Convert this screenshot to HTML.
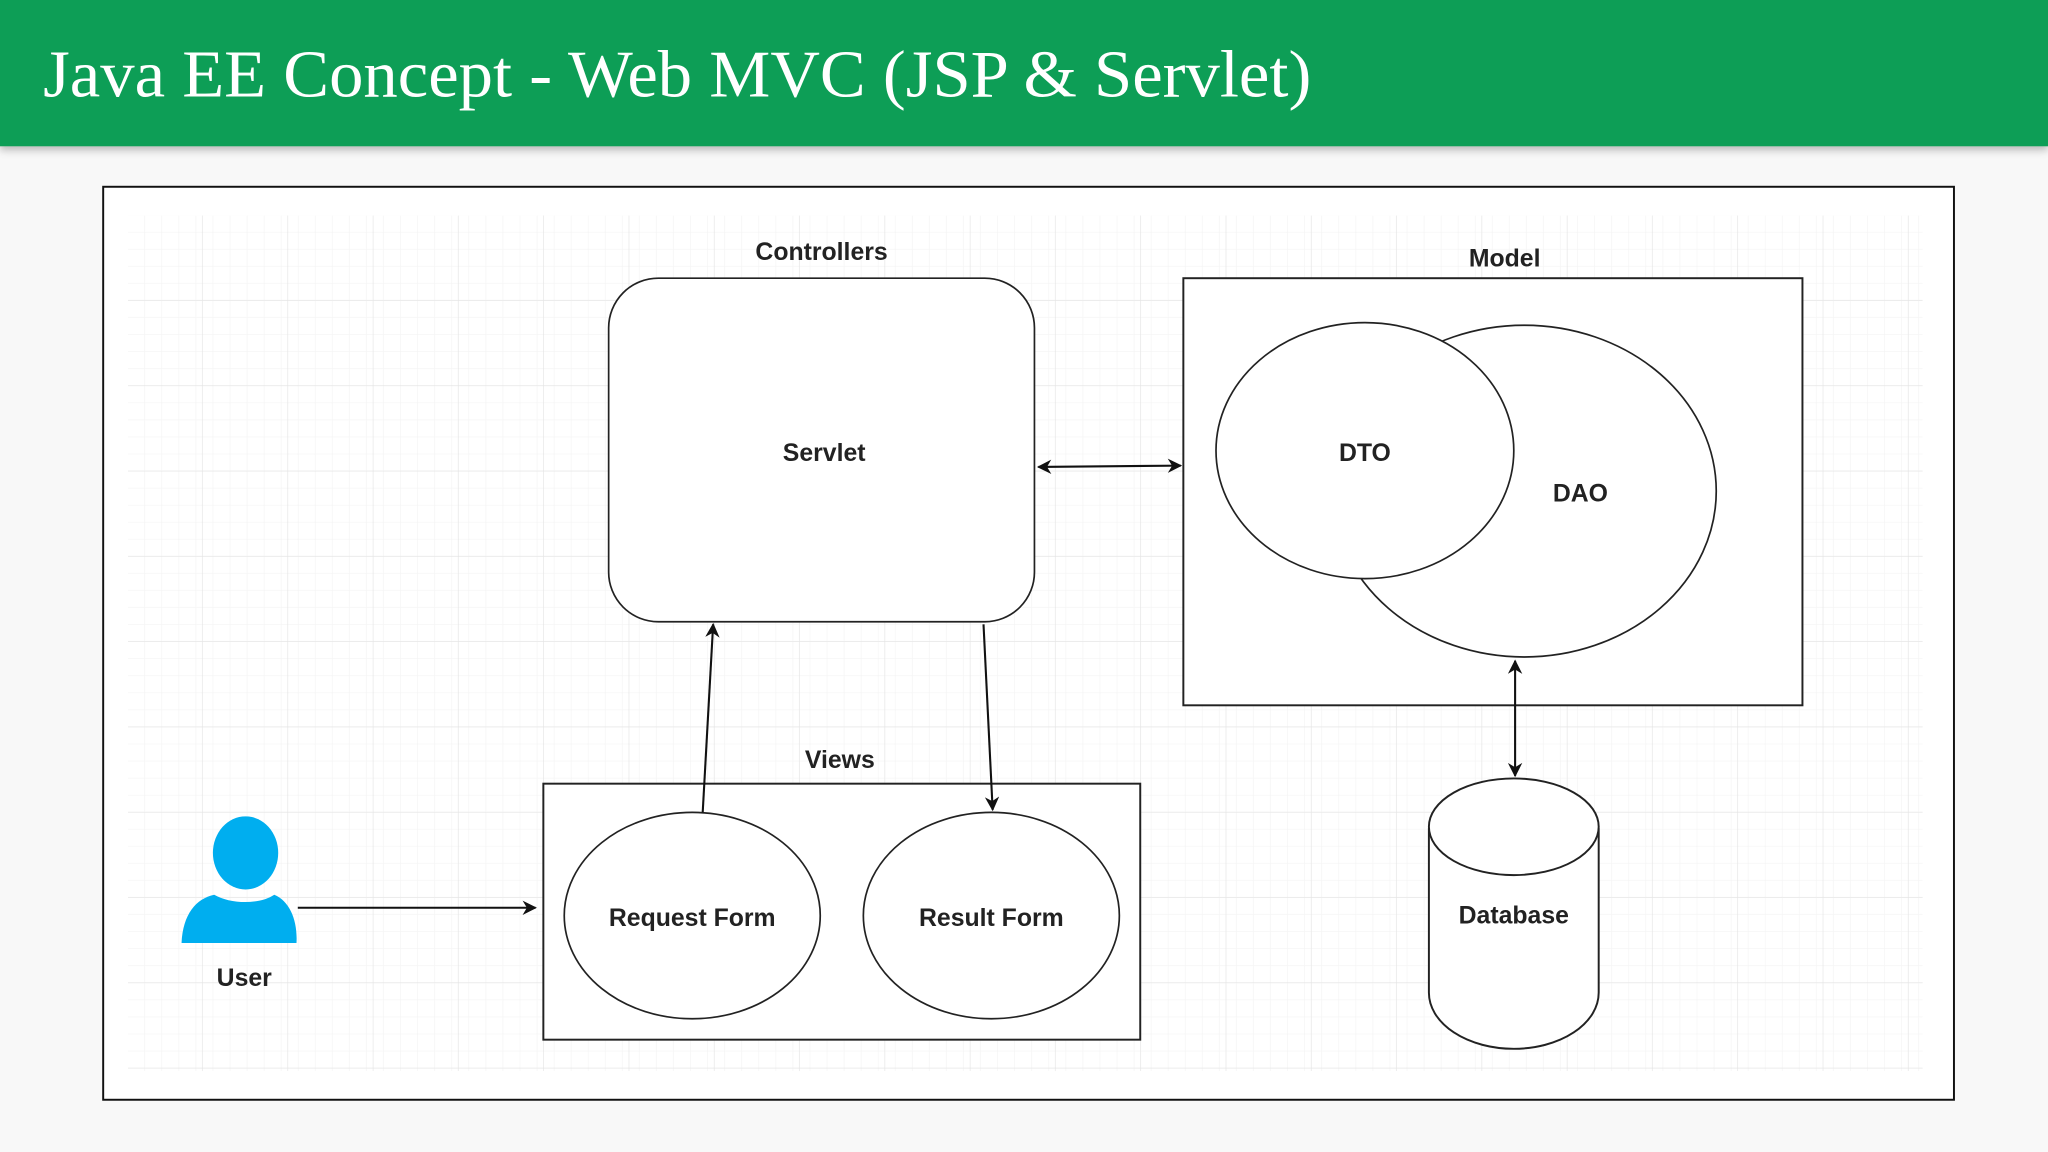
<!DOCTYPE html>
<html><head><meta charset="utf-8"><style>
html,body{margin:0;padding:0;background:#f8f8f8;}
svg{display:block}
text{font-family:"Liberation Sans",sans-serif;font-weight:bold;fill:#222;font-size:19px;text-anchor:middle}
</style></head><body>
<svg width="2048" height="1152" viewBox="0 0 1568 882" preserveAspectRatio="none" xmlns="http://www.w3.org/2000/svg">
<defs>
<pattern id="minor" x="98" y="165" width="13.06" height="13.06" patternUnits="userSpaceOnUse">
<path d="M13.06 0V13.06M0 13.06H13.06" stroke="#f4f4f4" stroke-width="1" fill="none"/>
</pattern>
<pattern id="major" x="24.7" y="165" width="65.3" height="65.3" patternUnits="userSpaceOnUse">
<path d="M65.3 0V65.3M0 65.3H65.3" stroke="#e4e4e4" stroke-width="1" fill="none"/>
</pattern>
<marker id="ah" viewBox="0 0 10 10" refX="9" refY="5" markerWidth="13" markerHeight="11" orient="auto-start-reverse" markerUnits="userSpaceOnUse">
<path d="M0 0L10 5L0 10L3 5Z" fill="#111"/>
</marker>
<filter id="sh" x="0" y="0" width="1" height="1.2"><feDropShadow dx="0" dy="3" stdDeviation="3" flood-color="#000" flood-opacity="0.25"/></filter>
</defs>
<rect x="0" y="0" width="1568" height="882" fill="#f8f8f8"/>
<rect x="0" y="0" width="1568" height="112" fill="#119e57" filter="url(#sh)"/>
<text x="33" y="74" textLength="971" lengthAdjust="spacingAndGlyphs" style="font-family:'Liberation Serif',serif;font-weight:normal;font-size:51px;fill:#fff;text-anchor:start">Java EE Concept - Web MVC (JSP &amp; Servlet)</text>
<rect x="79" y="143" width="1417" height="699" fill="#fff" stroke="#111" stroke-width="1.5"/>
<rect x="98" y="165" width="1374" height="655" fill="url(#minor)"/>
<rect x="98" y="165" width="1374" height="655" fill="url(#major)"/>

<text x="629" y="199">Controllers</text>
<rect x="466" y="213" width="326" height="263" rx="38" fill="#fff" stroke="#222" stroke-width="1.3"/>
<text x="631" y="353">Servlet</text>

<text x="1152" y="204">Model</text>
<rect x="906" y="213" width="474" height="327" fill="#fff" stroke="#222" stroke-width="1.5"/>
<ellipse cx="1167" cy="376" rx="147" ry="127" fill="#fff" stroke="#222" stroke-width="1.3"/>
<ellipse cx="1045" cy="345" rx="114" ry="98" fill="#fff" stroke="#222" stroke-width="1.3"/>
<text x="1045" y="353">DTO</text>
<text x="1210" y="384">DAO</text>

<line x1="795" y1="357.5" x2="904" y2="356.5" stroke="#111" stroke-width="1.6" marker-start="url(#ah)" marker-end="url(#ah)"/>
<line x1="1160" y1="506" x2="1160" y2="594" stroke="#111" stroke-width="1.6" marker-start="url(#ah)" marker-end="url(#ah)"/>

<path d="M1094 634 V760 A65 43 0 0 0 1224 760 V634" fill="#fff" stroke="#222" stroke-width="1.5"/>
<ellipse cx="1159" cy="633" rx="65" ry="37" fill="#fff" stroke="#222" stroke-width="1.5"/>
<text x="1159" y="707">Database</text>

<text x="643" y="588">Views</text>
<rect x="416" y="600" width="457" height="196" fill="#fff" stroke="#222" stroke-width="1.5"/>
<ellipse cx="530" cy="701" rx="98" ry="79" fill="#fff" stroke="#222" stroke-width="1.3"/>
<ellipse cx="759" cy="701" rx="98" ry="79" fill="#fff" stroke="#222" stroke-width="1.3"/>
<text x="530" y="709">Request Form</text>
<text x="759" y="709">Result Form</text>

<line x1="538" y1="622" x2="546" y2="478" stroke="#111" stroke-width="1.6" marker-end="url(#ah)"/>
<line x1="753" y1="478" x2="760" y2="620" stroke="#111" stroke-width="1.6" marker-end="url(#ah)"/>

<ellipse cx="188" cy="653" rx="25" ry="28" fill="#00aeef"/>
<path d="M139 722 C140 700 150 688 164 685 C176 692 198 693 210 685 C222 690 228 705 227 722 Z" fill="#00aeef"/>
<text x="187" y="755">User</text>
<line x1="228" y1="695" x2="410" y2="695" stroke="#111" stroke-width="1.6" marker-end="url(#ah)"/>
</svg>
</body></html>
